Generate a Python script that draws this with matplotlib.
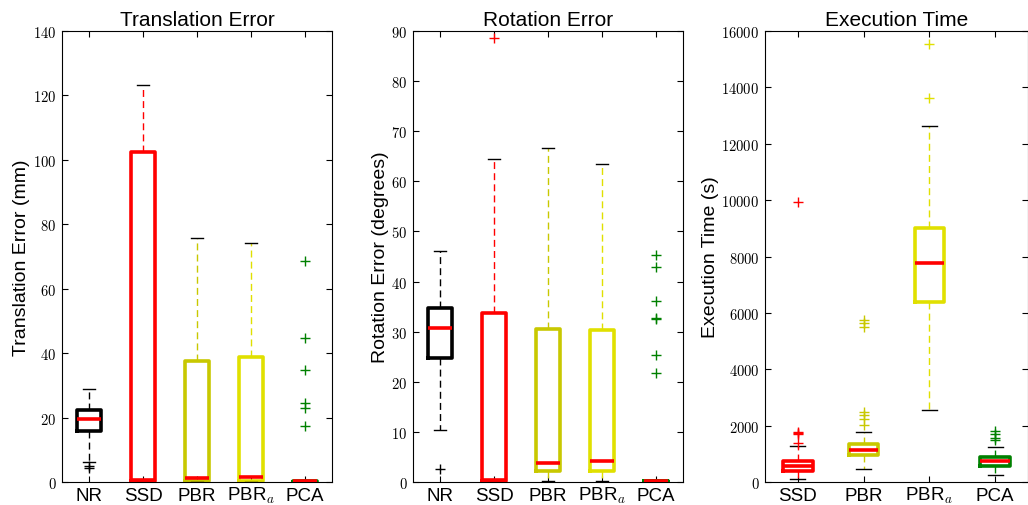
import numpy as np
import matplotlib
matplotlib.use("Agg")
import matplotlib.pyplot as plt

plt.rcParams['font.family'] = ['Liberation Sans', 'DejaVu Sans']
plt.rcParams['mathtext.fontset'] = 'cm'
plt.rcParams['axes.formatter.use_mathtext'] = True

# Translation error (mm)
trans_labels = ['NR', 'SSD', 'PBR', r'PBR$_a$', 'PCA']
trans_q1 = [15.7, 0.3, 0.3, 0.3, 0.1]
trans_med = [19.5, 0.5, 1.3, 1.7, 0.3]
trans_q3 = [22.5, 102.4, 37.6, 38.8, 0.4]
trans_lo = [6.2, 0.0, 0.0, 0.0, 0.0]
trans_hi = [28.8, 123.3, 75.8, 74.1, 0.4]
trans_fliers = [[5.0, 4.2], [], [], [], [68.6, 44.7, 34.7, 24.5, 23.0, 17.3]]

# Rotation error (degrees)
rot_labels = ['NR', 'SSD', 'PBR', r'PBR$_a$', 'PCA']
rot_q1 = [24.8, 0.2, 2.1, 2.1, 0.1]
rot_med = [30.8, 0.3, 3.7, 4.1, 0.2]
rot_q3 = [34.7, 33.8, 30.6, 30.3, 0.25]
rot_lo = [10.4, 0.0, 0.1, 0.1, 0.0]
rot_hi = [46.0, 64.5, 66.6, 63.4, 0.25]
rot_fliers = [[2.6], [88.6], [], [], [45.3, 43.0, 36.1, 32.8, 32.5, 25.3, 21.8]]

# Execution time (s)
time_labels = ['SSD', 'PBR', r'PBR$_a$', 'PCA']
time_q1 = [390, 946, 6386, 568]
time_med = [556, 1123, 7770, 733]
time_q3 = [745, 1360, 9011, 887]
time_lo = [118, 461, 2566, 260]
time_hi = [1265, 1786, 12630, 1254]
time_fliers = [[1384, 1691, 1738, 1774, 9945],
               [2010, 2223, 2365, 2472, 5500, 5653, 5760],
               [13635, 15539],
               [1478, 1561, 1715, 1810]]

colors = {'NR': 'black', 'SSD': '#ff0000', 'PBR': '#c8c800',
          r'PBR$_a$': '#e0e000', 'PCA': '#008000'}


def draw(ax, labels, q1, med, q3, lo, hi, fliers, title, ylabel, ymax, yticks):
    stats = []
    for i in range(len(labels)):
        stats.append(dict(q1=q1[i], med=med[i], q3=q3[i], whislo=lo[i],
                          whishi=hi[i], fliers=fliers[i], label=labels[i]))
    bp = ax.bxp(stats, widths=0.45, patch_artist=False)
    for i, lab in enumerate(labels):
        c = colors[lab]
        bp['boxes'][i].set(color=c, linewidth=2.6)
        bp['medians'][i].set(color='#ff0000', linewidth=2.6, zorder=3)
        for w in bp['whiskers'][2 * i:2 * i + 2]:
            w.set(color=c, linestyle=(0, (5, 3)), linewidth=1)
        for cp in bp['caps'][2 * i:2 * i + 2]:
            cp.set(color='black', linewidth=1)
        bp['fliers'][i].set(marker='+', markeredgecolor=c, markersize=7,
                            markeredgewidth=1)
    ax.set_ylim(0, ymax)
    ax.set_yticks(yticks)
    ax.set_xticklabels(labels, fontsize=13.5, va='center')
    for t in ax.get_yticklabels():
        t.set_fontfamily('cmr10')
        t.set_fontsize(10.5)
    ax.tick_params(direction='in', top=True, right=True, length=4)
    ax.tick_params(axis='x', pad=9.5)
    ax.tick_params(axis='y', pad=4)
    ax.set_title(title, fontsize=15, pad=4)
    ax.set_ylabel(ylabel, fontsize=14, labelpad=2)


fig = plt.figure(figsize=(10.28, 5.06), dpi=100)
W, H = 1028, 506
ax1 = fig.add_axes([62 / W, 1 - 483 / H, 270 / W, 451 / H])
ax2 = fig.add_axes([413 / W, 1 - 483 / H, 270 / W, 451 / H])
ax3 = fig.add_axes([765 / W, 1 - 483 / H, 263 / W, 451 / H])

draw(ax1, trans_labels, trans_q1, trans_med, trans_q3, trans_lo, trans_hi,
     trans_fliers, 'Translation Error', 'Translation Error (mm)', 140,
     np.arange(0, 141, 20))
draw(ax2, rot_labels, rot_q1, rot_med, rot_q3, rot_lo, rot_hi,
     rot_fliers, 'Rotation Error', 'Rotation Error (degrees)', 90,
     np.arange(0, 91, 10))
draw(ax3, time_labels, time_q1, time_med, time_q3, time_lo, time_hi,
     time_fliers, 'Execution Time', 'Execution Time (s)', 16000,
     np.arange(0, 16001, 2000))

fig.savefig('out.png', dpi=100)
